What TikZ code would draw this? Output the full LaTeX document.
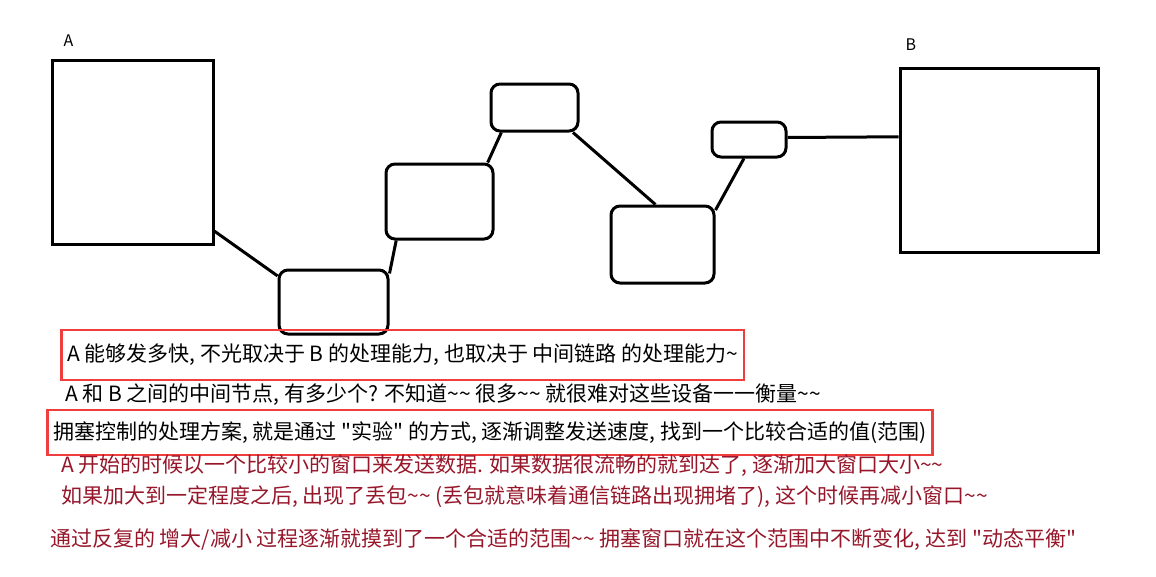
\documentclass[tikz,border=0pt]{standalone}
\usepackage{fontspec}
\setmainfont{Noto Sans CJK SC}[Ligatures=TeXOff]
\usetikzlibrary{positioning}
\definecolor{frame}{RGB}{240,62,62}
\definecolor{ink}{RGB}{150,22,42}
\newcommand{\wavy}{\textasciitilde}
\tikzset{host/.style = {draw, line width=3pt, inner sep=0}}
\tikzset{hop/.style = {draw, line width=3pt, rounded corners=9pt, inner sep=0}}
\tikzset{link/.style = {line width=3pt}}
\tikzset{tag/.style = {font=\fontsize{16}{18}\selectfont, inner sep=0}}
\tikzset{note/.style = {anchor=west, font=\fontsize{21}{24}\selectfont, inner sep=0}}
\tikzset{boxed/.style = {note, draw=frame, line width=2.5pt, inner xsep=6pt, minimum height=48pt}}

\begin{document}
\begin{tikzpicture}[x=1pt, y=-1pt]
  \useasboundingbox (0, 0) rectangle (1156, 576);
  % end hosts
  \node [host, minimum width=161, minimum height=184] (A) at (132.5, 152) {};
  \node [host, minimum width=198, minimum height=184] (B) at (999, 160) {};
  \node [tag, above right=12pt and 13pt of A.north west] (labA) {A};
  \node [tag, above right=16pt and 7pt of B.north west] (labB) {B};
  % hops in between
  \node [hop, minimum width=109, minimum height=64] (h1) at (333.5, 302) {};
  \node [hop, minimum width=107, minimum height=75] (h2) at (439.5, 201.5) {};
  \node [hop, minimum width=87, minimum height=47] (h3) at (534.5, 107.5) {};
  \node [hop, minimum width=103, minimum height=77] (h4) at (662.5, 244.5) {};
  \node [hop, minimum width=74, minimum height=35] (h5) at (749, 139.5) {};
  \draw [link] (A.-44) -- (h1.155);
  \draw [link] (h1.27) -- (h2.-138);
  \draw [link] (h2.39) -- (h3.-143);
  \draw [link] (h3.-33) -- (h4.100);
  \draw [link] (h4.33) -- (h5.-105);
  \draw [link] (h5.3) -- (B.167);
  % notes
  \node [boxed, minimum height=50] (n1) at (60, 355) {A 能够发多快, 不光取决于 B 的处理能力, 也取决于 中间链路 的处理能力\wavy};
  \node [note] (n2) at (65, 395) {A 和 B 之间的中间节点, 有多少个? 不知道\wavy\wavy{} 很多\wavy\wavy{} 就很难对这些设备一一衡量\wavy\wavy};
  \node [boxed, minimum height=45] (n3) at (46, 432.5) {拥塞控制的处理方案, 就是通过 "实验" 的方式, 逐渐调整发送速度, 找到一个比较合适的值(范围)};
  \node [note, text=ink] (n4) at (61, 466) {A 开始的时候以一个比较小的窗口来发送数据. 如果数据很流畅的就到达了, 逐渐加大窗口大小\wavy\wavy};
  \node [note, text=ink] (n5) at (61, 497) {如果加大到一定程度之后, 出现了丢包\wavy\wavy{} (丢包就意味着通信链路出现拥堵了), 这个时候再减小窗口\wavy\wavy};
  \node [note, text=ink] (n6) at (50, 540) {通过反复的 增大/减小 过程逐渐就摸到了一个合适的范围\wavy\wavy{} 拥塞窗口就在这个范围中不断变化, 达到 "动态平衡"};
\end{tikzpicture}
\end{document}
